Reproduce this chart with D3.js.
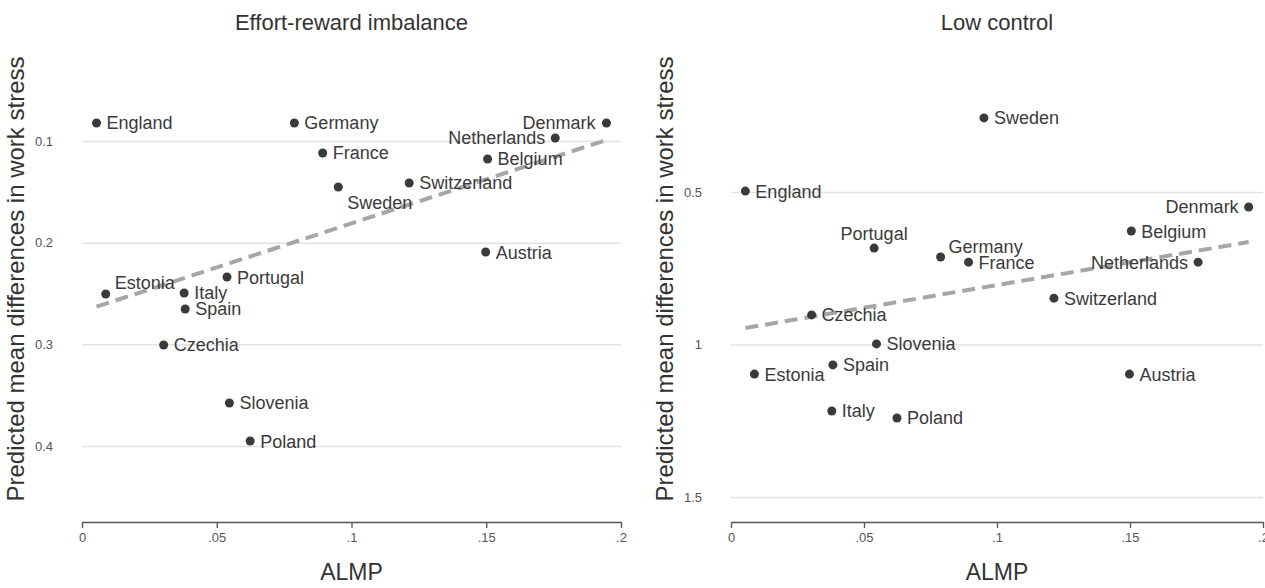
<!DOCTYPE html>
<html>
<head>
<meta charset="utf-8">
<script src="https://cdn.jsdelivr.net/npm/d3@7"></script>
<style>
  body { margin: 0; background: #fff; }
  svg { font-family: "Liberation Sans", Arial, sans-serif; }
</style>
</head>
<body>
<svg id="chart" width="1265" height="588"></svg>
<script>

// countries and their ALMP spending (shared by both panels)
const countries = ['England', 'Estonia', 'Czechia', 'Italy', 'Spain', 'Portugal', 'Slovenia', 'Poland',
                   'Germany', 'France', 'Sweden', 'Switzerland', 'Austria', 'Belgium', 'Netherlands', 'Denmark'];
const almp = [0.0054, 0.0088, 0.0303, 0.0379, 0.0383, 0.0538, 0.0547, 0.0624,
              0.0788, 0.0893, 0.0951, 0.1214, 0.1498, 0.1505, 0.1756, 0.1946];

// predicted mean differences, effort-reward imbalance
const eriValues = [0.0823, 0.2505, 0.3006, 0.2495, 0.2652, 0.2338, 0.3577, 0.3951,
                   0.0823, 0.1118, 0.1452, 0.1413, 0.2092, 0.1177, 0.0970, 0.0823];
// predicted mean differences, low control
const lowValues = [0.497, 1.097, 0.903, 1.218, 1.067, 0.684, 0.998, 1.241,
                   0.713, 0.730, 0.257, 0.848, 1.097, 0.628, 0.730, 0.549];

// fitted line, value at the smallest and the largest ALMP
const fitX = [0.0054, 0.1946];
const eriFit = [0.263, 0.099];
const lowFit = [0.946, 0.664];

// axis ticks
const xTicks = [0, 0.05, 0.1, 0.15, 0.2];
const eriTicks = [0.1, 0.2, 0.3, 0.4];
const lowTicks = [0.5, 1, 1.5];

const svg = document.querySelector('#chart');

// label placement for points that are not labelled on the right
const eriLabels = {
  'Estonia': { dx: 9, dy: -11, anchor: 'start' },
  'Sweden': { dx: 9, dy: 16, anchor: 'start' },
  'Denmark': { dx: -11, dy: 0, anchor: 'end' },
  'Netherlands': { dx: -10, dy: 0, anchor: 'end' }
};
const lowLabels = {
  'Portugal': { dx: 0, dy: -15, anchor: 'middle' },
  'Germany': { dx: 8, dy: -10, anchor: 'start' },
  'Denmark': { dx: -10, dy: 0, anchor: 'end' },
  'Netherlands': { dx: -10, dy: 0, anchor: 'end' }
};

drawPanel({
  title: 'Effort-reward imbalance',
  values: eriValues,
  fit: eriFit,
  yTicks: eriTicks,
  labels: eriLabels,
  xRange: [82, 621],
  yDomain: [0.1, 0.4],
  yRange: [141, 446],
  yFormat: d3.format('.1f')
});

drawPanel({
  title: 'Low control',
  values: lowValues,
  fit: lowFit,
  yTicks: lowTicks,
  labels: lowLabels,
  xRange: [731, 1263],
  yDomain: [0.5, 1.5],
  yRange: [192, 497],
  yFormat: d => d === 1 ? '1' : d3.format('.1f')(d)
});


function drawPanel(p) {
  const axisY = 522;
  const xScale = d3.scaleLinear().domain([0, 0.2]).range(p.xRange);
  const yScale = d3.scaleLinear().domain(p.yDomain).range(p.yRange);
  const g = d3.select(svg).append('g');
  const midX = (p.xRange[0] + p.xRange[1]) / 2;

  // title
  g.append('text')
    .text(p.title)
    .attr('x', midX)
    .attr('y', 30)
    .attr('text-anchor', 'middle')
    .style('font-size', '22px')
    .style('fill', '#333');

  // horizontal grid lines and y tick labels
  const yAxis = d3.axisLeft(yScale)
                  .tickValues(p.yTicks)
                  .tickSize(-(p.xRange[1] - p.xRange[0]))
                  .tickPadding(29)
                  .tickFormat(p.yFormat);
  const yG = g.append('g')
    .attr('transform', `translate(${p.xRange[0]}, 0)`)
    .call(yAxis);
  yG.select('.domain').remove();
  yG.selectAll('line').attr('stroke', '#e2e2e2').attr('stroke-width', 1.5);
  yG.selectAll('text')
    .style('font-size', '13px')
    .style('font-family', '"Liberation Sans", Arial, sans-serif')
    .style('fill', '#555');

  // x axis
  const xAxis = d3.axisBottom(xScale)
                  .tickValues(xTicks)
                  .tickSize(6)
                  .tickSizeOuter(0)
                  .tickPadding(5)
                  .tickFormat(d => d === 0 ? '0' : d3.format('.2~f')(d).replace(/^0/, ''));
  const xG = g.append('g')
    .attr('transform', `translate(0, ${axisY})`)
    .call(xAxis);
  xG.select('.domain').attr('stroke', '#555').attr('stroke-width', 1.3);
  xG.selectAll('line').attr('stroke', '#555').attr('stroke-width', 1.3);
  xG.selectAll('text')
    .style('font-size', '13px')
    .style('font-family', '"Liberation Sans", Arial, sans-serif')
    .style('fill', '#555');

  // axis labels
  g.append('text')
    .text('ALMP')
    .attr('x', midX)
    .attr('y', 580)
    .attr('text-anchor', 'middle')
    .style('font-size', '23px')
    .style('fill', '#333');
  g.append('text')
    .text('Predicted mean differences in work stress')
    .attr('transform', `translate(${p.xRange[0] - 58}, 279) rotate(-90)`)
    .attr('text-anchor', 'middle')
    .style('font-size', '24px')
    .style('fill', '#333');

  // fitted line
  const line = d3.line()
                 .x(d => xScale(d[0]))
                 .y(d => yScale(d[1]));
  g.append('path')
    .attr('d', line(fitX.map((x, i) => [x, p.fit[i]])))
    .attr('fill', 'none')
    .attr('stroke', '#a6a6a6')
    .attr('stroke-width', 4)
    .attr('stroke-dasharray', '13,7');

  // points with country labels
  const points = g.append('g')
    .selectAll('g')
    .data(countries)
    .enter()
    .append('g')
    .attr('transform', (d, i) => `translate(${xScale(almp[i])}, ${yScale(p.values[i])})`);

  points.append('circle')
    .attr('r', 4.5)
    .style('fill', '#3a3a3a');

  points.append('text')
    .text(d => d)
    .attr('x', d => p.labels[d] ? p.labels[d].dx : 10)
    .attr('y', d => p.labels[d] ? p.labels[d].dy : 0)
    .attr('dy', '0.36em')
    .attr('text-anchor', d => p.labels[d] ? p.labels[d].anchor : 'start')
    .style('font-size', '18px')
    .style('fill', '#3a3a3a');
}

</script>
</body>
</html>
